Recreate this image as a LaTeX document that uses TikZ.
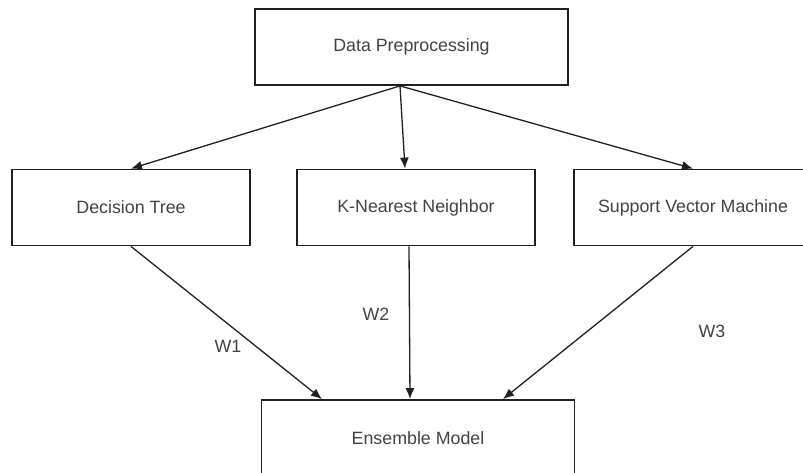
\documentclass[tikz,border=0pt]{standalone}
\usepackage{fontspec}
\setmainfont{Liberation Sans}
\usetikzlibrary{arrows.meta}
\definecolor{ink}{HTML}{231F20}
\begin{document}
\begin{tikzpicture}[
		x=1pt, y=-1pt,
		box/.style={rectangle, draw=ink, line width=1.8pt, minimum height=76pt, text=ink!85, font=\fontsize{17.8}{20}\selectfont},
		model/.style={box, minimum width=238pt},
		wide/.style={box, minimum width=313pt},
		link/.style={draw=ink, line width=1.3pt, -{Latex[length=11pt,width=9pt]}},
		weight/.style={text=ink!85, font=\fontsize{17.8}{20}\selectfont}
	]
	\clip (0,0) rectangle (803,473);
	\node[wide] (prep) at (411.5,47) {Data Preprocessing};
	\node[model] (dt) at (131,207.5) {Decision Tree};
	\node[model] (knn) at (416,207.5) {K-Nearest Neighbor};
	\node[model] (svm) at (693,207.5) {Support Vector Machine};
	\node[wide] (ens) at (418,438) {Ensemble Model};
	\coordinate (split) at ([xshift=-11.5pt]prep.south);
	\draw[link] (split) -- (dt.north);
	\draw[link] (split) -- ([xshift=-11pt]knn.north);
	\draw[link] (split) -- (svm.north);
	\draw[link] (dt.south) -- ([xshift=-96pt]ens.north);
	\draw[link] ([xshift=-7pt]knn.south) -- ([xshift=-8pt]ens.north);
	\draw[link] (svm.south) -- ([xshift=85pt]ens.north);
	\node[weight] (w1) at (228,346) {W1};
	\node[weight] (w2) at (376,314) {W2};
	\node[weight] (w3) at (712,331) {W3};
\end{tikzpicture}
\end{document}
